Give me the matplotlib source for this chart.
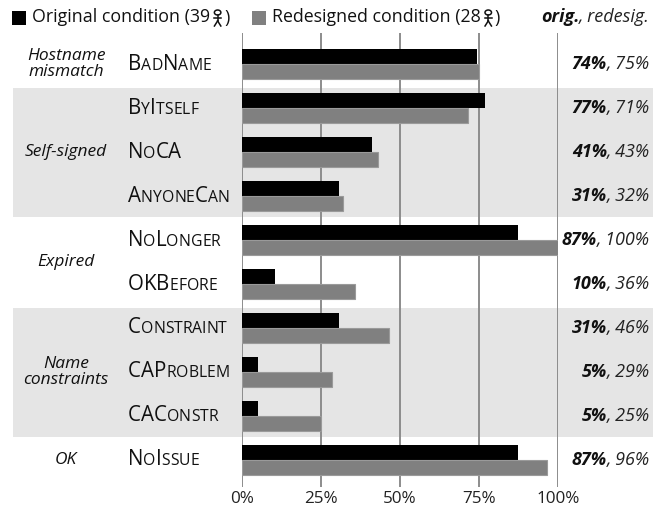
import matplotlib
matplotlib.use("Agg")
import matplotlib.pyplot as plt
from matplotlib.patches import Rectangle, Circle
from matplotlib.lines import Line2D
from matplotlib.offsetbox import TextArea, HPacker, AnnotationBbox
from matplotlib.transforms import blended_transform_factory
import numpy as np

# data
cases = ['BadName', 'ByItself', 'NoCA', 'AnyoneCan', 'NoLonger', 'OKBefore',
         'Constraint', 'CAProblem', 'CAConstr', 'NoIssue']
orig = [74.4, 76.9, 41.0, 30.8, 87.2, 10.3, 30.8, 5.1, 5.1, 87.2]
redes = [75.0, 71.4, 42.9, 32.1, 100.0, 35.7, 46.4, 28.6, 25.0, 96.4]
orig_lbl = ['74%', '77%', '41%', '31%', '87%', '10%', '31%', '5%', '5%', '87%']
redes_lbl = ['75%', '71%', '43%', '32%', '100%', '36%', '46%', '29%', '25%', '96%']
groups = ['Hostname\nmismatch', 'Self-signed', 'Expired', 'Name\nconstraints', 'OK']
group_rows = [(0, 0), (1, 3), (4, 5), (6, 8), (9, 9)]
shaded = [1, 3]
xticks = [0, 25, 50, 75, 100]
xtick_lbl = ['0%', '25%', '50%', '75%', '100%']
n_orig, n_redes = 39, 28

FONT = ['Open Sans', 'DejaVu Sans']
plt.rcParams['font.family'] = FONT
W, H = 667, 512
fig = plt.figure(figsize=(W / 100, H / 100), dpi=100)
ax = fig.add_axes([242 / W, (H - 487) / H, 316 / W, 454 / H])
ax.set_facecolor('none')
ax.set_xlim(0, 100)
ax.set_ylim(9.614, -0.705)
for s in ax.spines.values():
    s.set_visible(False)
ax.set_yticks([])
ax.set_xticks(xticks)
ax.set_xticklabels(xtick_lbl, fontsize=12.3, color='#222222')
ax.tick_params(axis='x', length=0, pad=3)

y = np.arange(len(cases))
bh = 0.33
ax.barh(y - bh / 2, orig, height=bh, color='black', zorder=2)
ax.barh(y + bh / 2, redes, height=bh, color='#808080', edgecolor='#9a9a9a',
        linewidth=0.8, zorder=2)
for xv in xticks:
    ax.axvline(xv, color='#8c8c8c', lw=1.4, zorder=1)

figx = blended_transform_factory(fig.transFigure, ax.transData)

# shaded group bands
for gi in shaded:
    a, b = group_rows[gi]
    ax.add_patch(Rectangle((13 / W, a - 0.46), 640 / W, b - a + 0.94,
                           transform=figx, facecolor='#e5e5e5', edgecolor='none',
                           zorder=0, clip_on=False))

# group labels
for g, (a, b) in zip(groups, group_rows):
    ax.text(66 / W, (a + b) / 2, g, transform=figx, ha='center', va='center',
            fontsize=12.5, style='italic', linespacing=0.92, color='#111111')


def place(pieces, xy, align, trans):
    boxes = [TextArea(t, textprops=dict(family=FONT, **p)) for t, p in pieces]
    box = HPacker(children=boxes, align='baseline', pad=0, sep=0)
    ab = AnnotationBbox(box, xy, xycoords=trans, frameon=False,
                        box_alignment=align, pad=0, annotation_clip=False)
    ax.add_artist(ab)


def smallcaps(name):
    pieces = []
    for ch in name:
        if ch.isupper():
            pieces.append((ch, dict(fontsize=14.8, color='#111111')))
        else:
            pieces.append((ch.upper(), dict(fontsize=11.3, color='#111111')))
    return pieces


for i, c in enumerate(cases):
    place(smallcaps(c), (128 / W, i), (0, 0.5), figx)
    place([(orig_lbl[i], dict(fontsize=13, weight='bold', style='italic', color='#111111')),
           (', ' + redes_lbl[i], dict(fontsize=13, style='italic', color='#222222'))],
          (650 / W, i), (1, 0.5), figx)

# header on the right
place([('orig.', dict(fontsize=13, weight='bold', style='italic', color='#111111')),
       (', redesig.', dict(fontsize=13, style='italic', color='#222222'))],
      (650 / W, 1 - 17 / H), (1, 0.5), fig.transFigure)


# the person sign (U+1FBC5) is in no installed font, so it is drawn as a shape
def person(x0, yc):
    tr = fig.transFigure
    cx = x0 + 5
    fig.patches.append(Circle((cx / W, 1 - (yc - 5.0) / H), 2.5 / H, transform=tr,
                              facecolor='none', edgecolor='#111111', lw=1.1))
    segs = [((cx, yc - 2.5), (cx, yc + 3.4)),
            ((cx - 3.4, yc + 0.8), (cx + 3.4, yc + 0.8)),
            ((cx, yc + 3.4), (cx - 3.2, yc + 8.5)),
            ((cx, yc + 3.4), (cx + 3.2, yc + 8.5))]
    for (xa, ya), (xb, yb) in segs:
        fig.lines.append(Line2D([xa / W, xb / W], [1 - ya / H, 1 - yb / H],
                                transform=tr, color='#111111', lw=1.1))


renderer = fig.canvas.get_renderer()


def legend_entry(x, color, label, n):
    fig.patches.append(Rectangle((x / W, 1 - 25 / H), 14 / W, 14 / H, transform=fig.transFigure,
                                 facecolor=color, edgecolor='none'))
    t = fig.text((x + 20) / W, 1 - 17.5 / H, '%s (%d' % (label, n), fontsize=12.8,
                 va='center', ha='left', color='#111111')
    x1 = t.get_window_extent(renderer).x1
    person(x1 + 2.5, 17.5)
    fig.text((x1 + 14) / W, 1 - 17.5 / H, ')', fontsize=12.8, va='center', ha='left',
             color='#111111')


legend_entry(12, 'black', 'Original condition', n_orig)
legend_entry(252, '#808080', 'Redesigned condition', n_redes)

fig.savefig('out.png', dpi=100)
